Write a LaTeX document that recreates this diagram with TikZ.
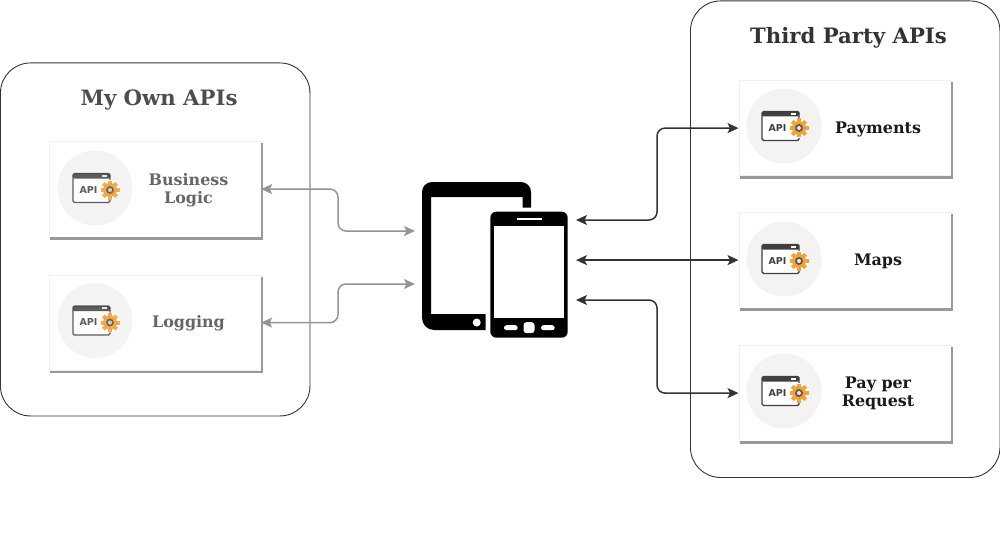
\documentclass[tikz,border=0pt]{standalone}
\usepackage{fontspec}
\setmainfont{DejaVu Serif}
\newfontfamily\apifont{DejaVu Sans}
\usetikzlibrary{arrows.meta}
\definecolor{lefttxt}{HTML}{666666}
\definecolor{lefttitle}{HTML}{4D4D4D}
\definecolor{righttxt}{HTML}{1A1A1A}
\definecolor{righttitle}{HTML}{333333}
\definecolor{halo}{HTML}{F5F3F1}
\definecolor{gearc}{HTML}{F2A23C}
\newcommand{\cardedge}[1]{%
  \fill[black!40] ([xshift=1pt]#1.south west) rectangle ([xshift=2pt,yshift=-2.5pt]#1.south east);
  \fill[black!40] ([yshift=-2pt]#1.north east) rectangle ([xshift=2pt]#1.south east);
}
\tikzset{
  group/.style={draw=black!80,line width=0.9pt,rounded corners=30pt,inner sep=0pt,anchor=north west},
  card/.style={draw=black!6,line width=0.7pt,fill=white,minimum width=212pt,minimum height=95.5pt,inner sep=0pt,anchor=north west},
  title/.style={font=\fontsize{21.2}{25}\selectfont\bfseries,align=center},
  lab/.style={font=\fontsize{15.9}{18}\selectfont\bfseries,align=center},
  link/.style={line width=1.5pt,rounded corners=8pt,{Stealth[length=11pt,width=10pt,inset=2.5pt]}-{Stealth[length=11pt,width=10pt,inset=2.5pt]}},
  icon/.pic={
    \fill[halo] (0,0) circle (37.5pt);
    \draw[black!75,line width=1.4pt,rounded corners=1.5pt,fill=white] (-22,-14.5) rectangle (15,14.5);
    \fill[black!75,rounded corners=1pt] (-22,-14.5) rectangle (15,-9.5);
    \fill[white] (7,-13.2) rectangle (12,-11.4);
    \node[font=\apifont\fontsize{9.5}{9.5}\selectfont\bfseries,text=black!75,inner sep=0pt] (-api) at (-6.5,2) {API};
    \fill[white] (15,2) circle (10pt);
    \foreach \a in {0,45,...,315}{
      \fill[gearc,rotate around={\a:(15,2)}] (13,-7.5) rectangle (17,-3);
    }
    \fill[gearc] (15,2) circle (7pt);
    \fill[black!65] (15,2) circle (4pt);
    \fill[gearc!30!white] (15,2) circle (2pt);
  }
}
\begin{document}
\begin{tikzpicture}[x=1pt,y=-1pt]
\useasboundingbox (0,0) rectangle (1000,540);
% groups
\node[group,minimum width=309.5pt,minimum height=353pt] (own) at (0,62.5) {};
\node[group,minimum width=309.5pt,minimum height=476.5pt] (third) at (690,0.5) {};
\node[title,text=lefttitle] (ownt) at (159,100) {My Own APIs};
\node[title,text=righttitle] (thirdt) at (848.5,38) {Third Party APIs};
% cards
\node[card] (biz) at (48.5,141) {};
\node[card] (logg) at (48.5,274.5) {};
\node[card] (pay) at (738.5,80) {};
\node[card] (maps) at (738.5,212) {};
\node[card] (ppr) at (738.5,345) {};
\cardedge{biz}\cardedge{logg}\cardedge{pay}\cardedge{maps}\cardedge{ppr}
% icons
\begin{scope}[opacity=.85]
\pic (ia) at (95,188) {icon};
\pic (ib) at (95,320.5) {icon};
\end{scope}
\pic (ic) at (784,126) {icon};
\pic (id) at (784,259) {icon};
\pic (ie) at (784,391) {icon};
% labels
\node[lab,text=lefttxt] (biztxt) at (188.5,190) {Business\\Logic};
\node[lab,text=lefttxt] (logtxt) at (188.5,323.5) {Logging};
\node[lab,text=righttxt] (paytxt) at (878,129) {Payments};
\node[lab,text=righttxt] (maptxt) at (878,261.5) {Maps};
\node[lab,text=righttxt] (pprtxt) at (878,393.5) {Pay per\\Request};
% devices
\fill[black,even odd rule,rounded corners=0pt]
  (422,192) arc[start angle=180,end angle=270,radius=10] -- (521,182)
  arc[start angle=270,end angle=360,radius=10] -- (531,207.7) -- (522.7,207.7) -- (522.7,197) -- (431,197) -- (431,314) -- (485.7,314) -- (485.7,330) -- (434,330)
  arc[start angle=90,end angle=180,radius=12] -- cycle;
\fill[white] (476.7,322.5) circle (4pt);
\fill[black,rounded corners=6pt] (490.3,211.7) rectangle (567.7,337.7);
\fill[white] (494,225.7) rectangle (564,318.3);
\fill[white] (516.7,217.5) rectangle (541.7,220);
\fill[white,rounded corners=2.5pt] (504,325.2) rectangle (517.7,330.2);
\fill[white,rounded corners=2.5pt] (541,325.2) rectangle (554.7,330.2);
\fill[white,rounded corners=3pt] (523.5,322.2) rectangle (534.5,333.2);
% endpoints
\coordinate (da) at (415,231);
\coordinate (db) at (415,284);
\coordinate (dc) at (576,220);
\coordinate (dd) at (576,260);
\coordinate (de) at (576,300);
\coordinate (ml) at (338,0);
\coordinate (mr) at (657,0);
% connectors
\draw[link,draw=black!42] (biz.east) -- (biz.east -| ml) -- (da -| ml) -- (da);
\draw[link,draw=black!42] (logg.east) -- (logg.east -| ml) -- (db -| ml) -- (db);
\draw[link,draw=black!80] (dc) -- (dc -| mr) -- (pay.west -| mr) -- (pay.west);
\draw[link,draw=black!80] (maps.west -| dd) -- (maps.west);
\draw[link,draw=black!80] (de) -- (de -| mr) -- (ppr.west -| mr) -- (ppr.west);
\end{tikzpicture}
\end{document}
